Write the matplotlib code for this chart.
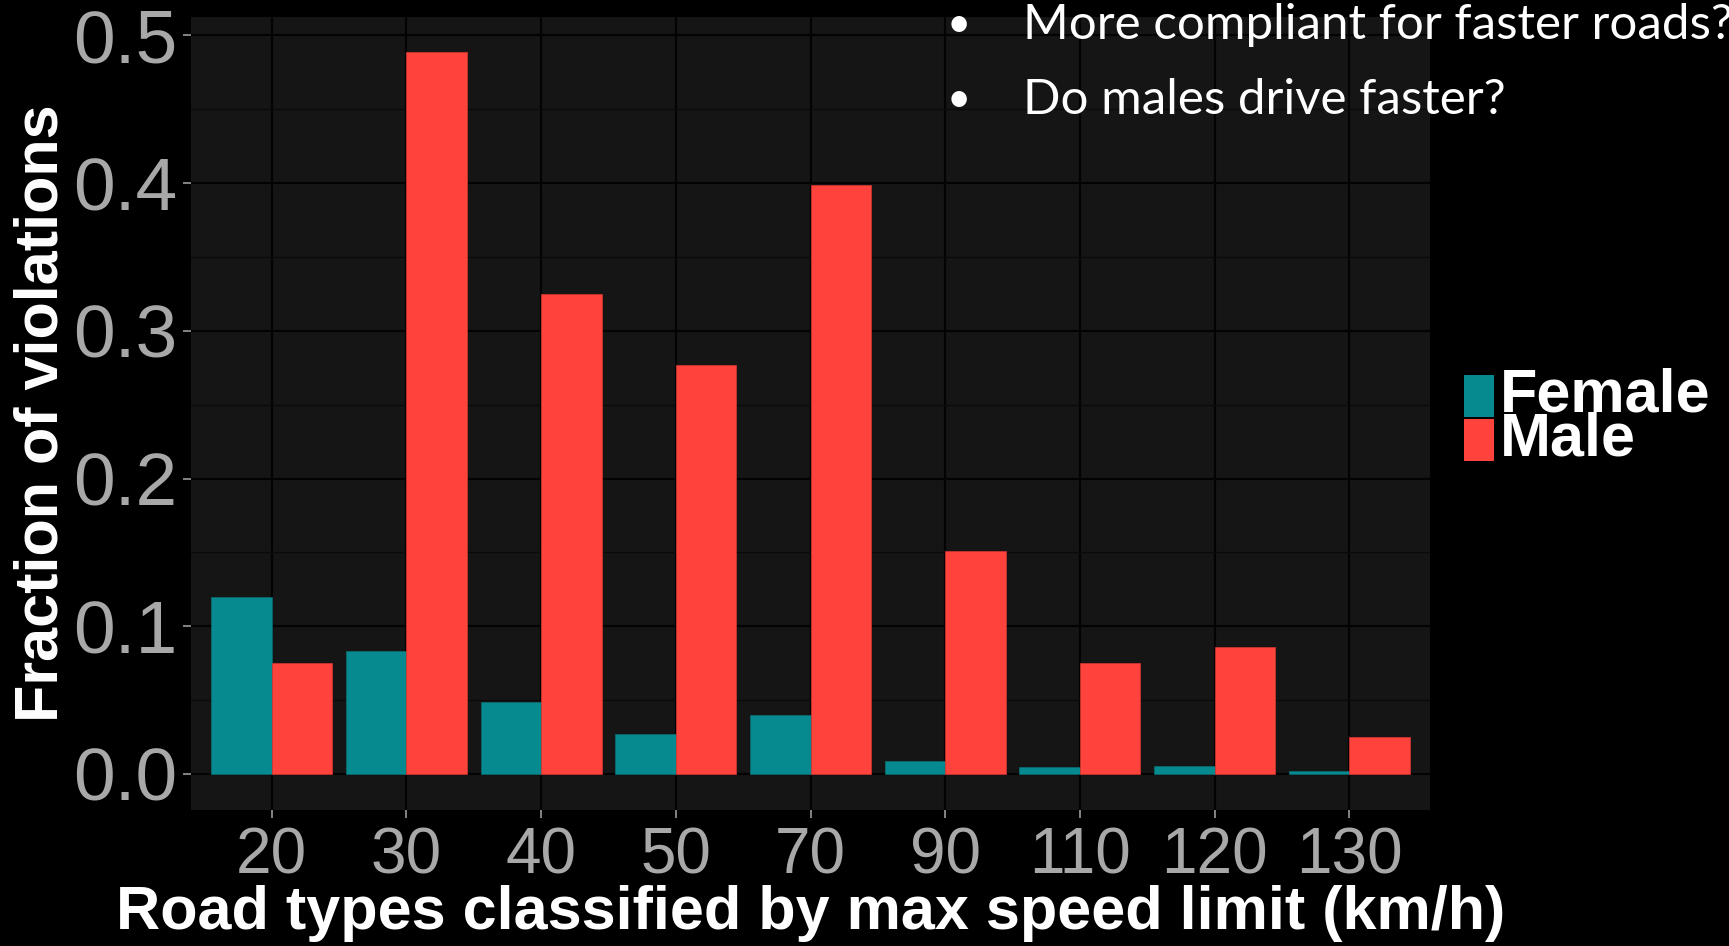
import matplotlib
matplotlib.use("Agg")
import matplotlib.pyplot as plt
import numpy as np
from matplotlib.patches import Rectangle

speed_limits = ["20", "30", "40", "50", "70", "90", "110", "120", "130"]
female = [0.120, 0.083, 0.049, 0.027, 0.040, 0.0086, 0.0045, 0.0056, 0.0018]
male = [0.075, 0.489, 0.325, 0.277, 0.399, 0.151, 0.075, 0.086, 0.025]
y_ticks = [0.0, 0.1, 0.2, 0.3, 0.4, 0.5]
y_tick_labels = ["0.0", "0.1", "0.2", "0.3", "0.4", "0.5"]
series_names = ["Female", "Male"]
bullets = ["More compliant for faster roads?", "Do males drive faster?"]

TEAL = "#078A8F"
RED = "#FE423C"
SANS = ["Liberation Sans", "DejaVu Sans"]

W, H = 1729, 946
fig = plt.figure(figsize=(W / 100, H / 100), dpi=100)
fig.patch.set_facecolor("black")

ax_left, ax_right, ax_top, ax_bottom = 191, 1430, 17, 810
ax = fig.add_axes([ax_left / W, 1 - ax_bottom / H, (ax_right - ax_left) / W, (ax_bottom - ax_top) / H])
ax.set_facecolor("#151515")

x = np.arange(len(speed_limits))
bw = 0.45
ax.bar(x - bw / 2, female, width=bw, color=TEAL, edgecolor="#0a6e72", linewidth=0.5, zorder=3)
ax.bar(x + bw / 2, male, width=bw, color=RED, edgecolor="#d83530", linewidth=0.5, zorder=3)

ax.set_xlim(-0.6, len(speed_limits) - 0.4)
ax.set_ylim(-0.0244, 0.5125)

ax.set_yticks(y_ticks)
ax.set_yticklabels(y_tick_labels)
ax.set_yticks([0.05, 0.15, 0.25, 0.35, 0.45], minor=True)
ax.set_xticks(x)
ax.set_xticklabels(speed_limits)

ax.grid(which="major", color="#030303", linewidth=1.6, zorder=1)
ax.grid(which="minor", axis="y", color="#0a0a0a", linewidth=0.9, zorder=1)
ax.set_axisbelow(True)
for s in ax.spines.values():
    s.set_visible(False)

ax.tick_params(axis="both", which="major", colors="#9a9a9a", length=6, width=1.2)
ax.tick_params(axis="y", which="minor", length=0)
ax.tick_params(axis="y", labelsize=54, pad=4, labelcolor="#A8A8A8")
ax.tick_params(axis="x", labelsize=46, pad=6, labelcolor="#A8A8A8")
for lbl in ax.get_yticklabels() + ax.get_xticklabels():
    lbl.set_family(SANS)

pw = ax_right - ax_left
ph = ax_bottom - ax_top
ax.set_xlabel("Road types classified by max speed limit (km/h)", color="white",
              fontsize=44, fontweight="bold", family=SANS)
ax.xaxis.label.set_va("center")
ax.xaxis.set_label_coords(0.5, (ax_bottom - 913) / ph)
ax.set_ylabel("Fraction of violations", color="white",
              fontsize=44, fontweight="bold", family=SANS)
ax.yaxis.label.set_va("center")
ax.yaxis.set_label_coords((42 - ax_left) / pw, 0.5)

# legend
for i, (name, col) in enumerate(zip(series_names, [TEAL, RED])):
    y0 = 375 + i * 44
    fig.patches.append(Rectangle((1464 / W, 1 - (y0 + 42) / H), 30 / W, 42 / H,
                                 transform=fig.transFigure, facecolor=col, edgecolor="none"))
    fig.text(1500 / W, 1 - (y0 + 21) / H, name, color="white", fontsize=44, fontweight="bold",
             family=SANS, va="center", ha="left")

# bullet text
for i, t in enumerate(bullets):
    yc = 25 + i * 75
    fig.text(959 / W, 1 - yc / H, "\u2022", color="white", fontsize=30,
             family=["Lato", "DejaVu Sans"], va="center", ha="center")
    fig.text(1023 / W, 1 - yc / H, t, color="white", fontsize=35.5,
             family=["Lato", "DejaVu Sans"], va="center", ha="left")

fig.savefig("out.png", dpi=100, facecolor="black")
